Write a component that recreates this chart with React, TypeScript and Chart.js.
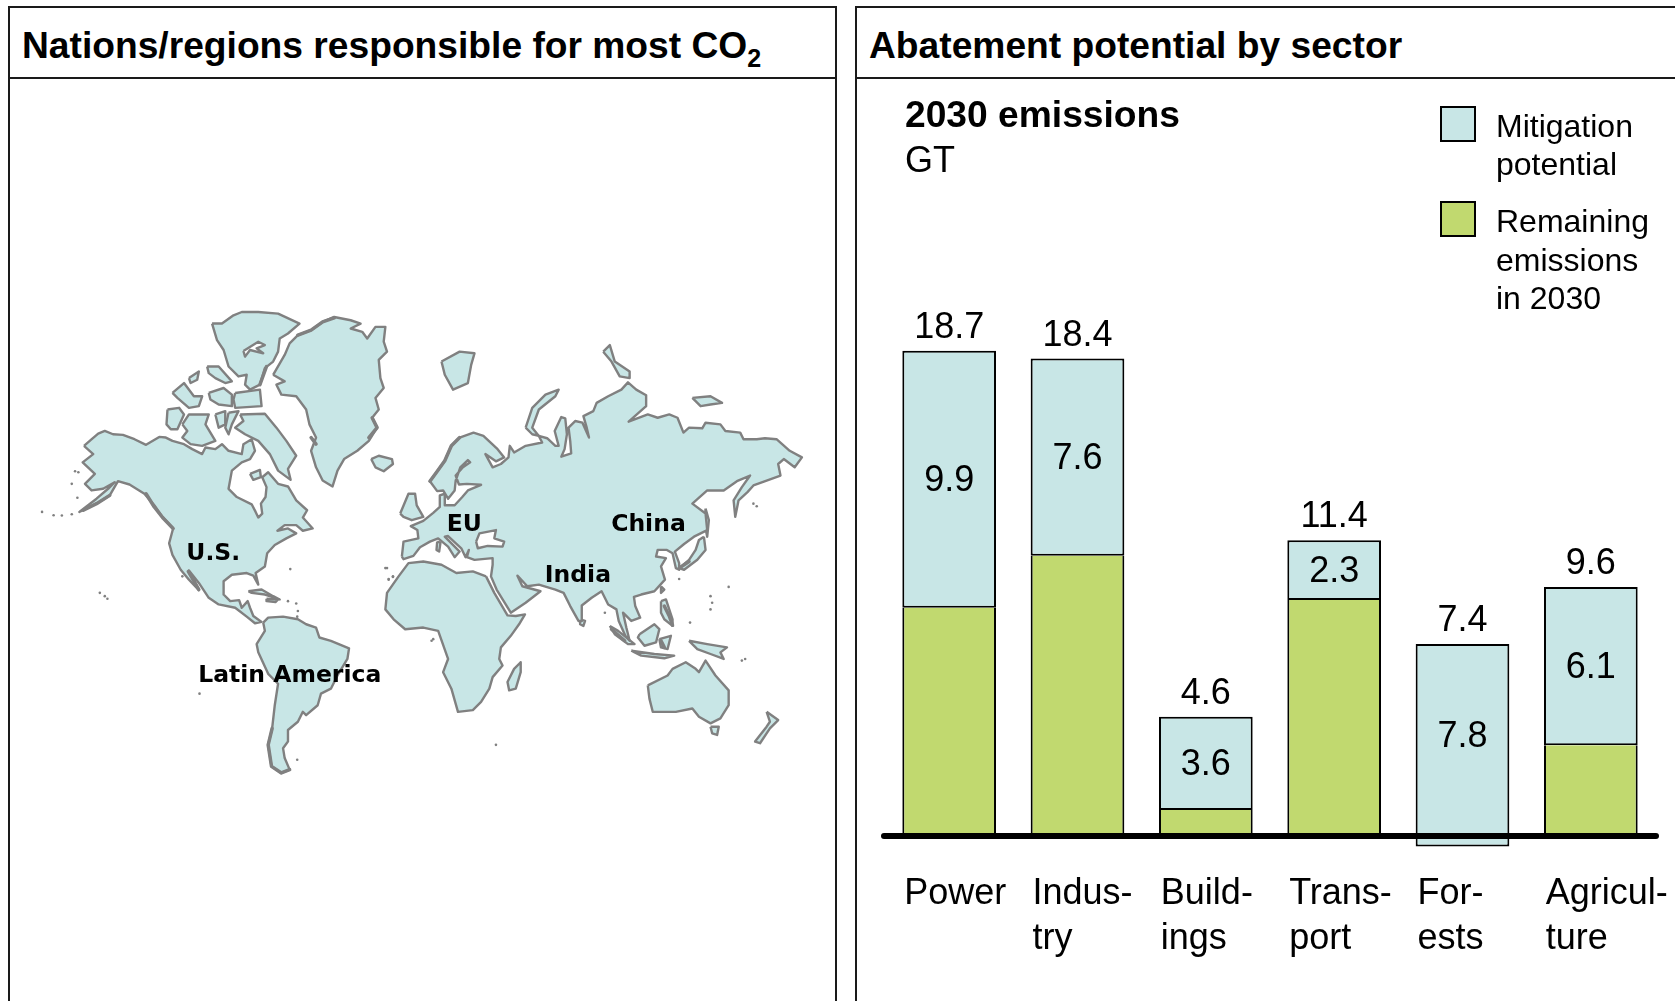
import React, { useEffect, useRef } from "react";
import { Chart, registerables } from "chart.js";

Chart.register(...registerables);

// ---- Abatement data, GT ----
const sectors = ["Power", "Industry", "Buildings", "Transport", "Forests", "Agriculture"];
const sectorTickLabels = [["Power"], ["Indus-", "try"], ["Build-", "ings"], ["Trans-", "port"], ["For-", "ests"], ["Agricul-", "ture"]];
const totalEmissions = [18.7, 18.4, 4.6, 11.4, 7.4, 9.6];
const mitigationPotential = [9.9, 7.6, 3.6, 2.3, 7.8, 6.1];
const remainingEmissions = [8.8, 10.8, 1.0, 9.1, null, 3.5];
const legendMitigation = ["Mitigation", "potential"];
const legendRemaining = ["Remaining", "emissions", "in 2030"];

// ---- World outline, flat x,y lists; the Atlantic splits it into two sheets ----
const westLand = [
  // North America
  [242,495,262,478,285,458,305,450,330,460,360,462,395,475,430,492,470,468,490,470,510,480,545,490,570,505,600,520,610,500,640,505,660,490,680,510,720,520,725,490,750,475,760,510,745,535,720,545,690,570,680,625,705,650,750,672,762,695,770,712,782,700,778,670,792,650,795,620,782,590,800,575,830,610,860,618,885,660,918,690,905,712,935,745,905,752,885,735,850,735,828,752,860,745,885,760,855,775,820,795,797,820,790,860,762,880,770,915,755,888,735,880,690,885,665,905,665,945,685,965,712,962,720,985,738,965,745,985,755,1010,780,1028,760,1032,735,1012,700,985,650,975,620,955,590,910,560,872,590,932,560,900,535,870,510,825,500,790,512,745,480,710,455,675,425,640,380,612,345,602,320,645,280,670,228,695,280,655,315,625,335,605,300,625,265,630,245,610,275,580,238,545,270,520,242,495],
  // Greenland
  [815,280,850,220,865,185,890,160,930,145,965,120,1000,105,1050,115,1080,125,1050,140,1085,150,1100,170,1125,135,1155,135,1150,180,1160,210,1135,235,1140,290,1150,320,1125,350,1135,385,1115,410,1130,440,1105,480,1070,510,1030,535,1010,570,995,618,965,600,945,560,930,510,945,470,925,430,915,385,885,345,840,340,825,310,850,300,815,280],
  // Iceland
  [1112,535,1135,525,1175,535,1178,550,1150,572,1125,560,1112,535],
  // South America
  [785,1030,800,1015,845,1012,890,1020,915,1035,945,1045,955,1075,990,1085,1045,1108,1040,1140,1010,1190,990,1230,960,1245,950,1280,915,1310,905,1300,890,1330,860,1355,860,1390,845,1410,850,1440,865,1475,840,1485,810,1465,800,1400,812,1350,820,1280,830,1215,800,1185,770,1120,765,1095,790,1055,785,1030],
  // Arctic archipelago
  [630,125,660,125,695,100,720,90,770,90,830,95,895,125,860,155,835,170,830,210,815,240,790,260,775,310,745,325,730,310,735,280,710,285,680,255,665,205,645,175,630,125],
  [700,335,775,325,780,375,700,380,695,355,700,335],
  [510,335,545,305,575,345,600,345,590,375,560,380,525,350,510,335],
  [615,255,650,255,690,300,670,305,640,290,620,275,615,255],
  [560,290,590,270,585,295,565,305,560,290],
  [620,335,665,320,690,340,690,375,650,370,625,355,620,335],
  [495,385,530,380,545,400,525,445,505,445,492,430,495,385],
  [540,430,560,400,620,400,610,430,640,480,600,495,565,490,540,470,555,450,540,430],
  [640,400,670,390,670,430,650,440,640,400],
  [680,395,710,390,690,430,680,460,670,440,680,395],
  [715,400,790,398,825,440,855,480,885,525,860,565,868,598,830,570,805,520,770,480,730,460,700,440,725,420,715,400],
  [745,580,775,568,778,590,755,598,745,580],
  // Caribbean
  [740,935,780,930,815,950,835,960,790,945,750,940,740,935],
  [795,958,830,960,822,968,795,965,795,958],
];
const westInlets = [[725,208,770,180,790,190,765,200,785,215,745,205,730,225,725,208]];
const westIslets = [115,695,150,705,175,706,205,702,205,610,222,652,215,572,225,575,867,868,540,890,592,1245,888,1445,1160,865,1165,898,1178,890,290,940,305,950,313,958,860,965,885,972,890,995,888,1012];
const westFjords = [
  [430,640,455,680,480,712,512,745],
  [320,645,280,670,240,690],
  [558,875,590,930],
  [812,1350,800,1400,810,1465,840,1485,865,1475],
  [1115,410,1130,440,1105,470],
  [890,160,930,145,965,120,1000,108],
  [795,255,775,310],
  [930,470,945,490],
];

const eastLand = [
  // Eurasia
  [65,710,70,665,115,655,112,630,92,618,130,602,160,578,180,560,180,525,195,520,195,555,225,555,248,530,265,510,305,493,262,490,238,492,228,465,250,440,272,425,265,418,242,440,228,480,225,510,205,535,190,510,172,512,150,482,170,455,195,420,215,375,240,350,282,335,312,345,355,385,375,410,350,422,318,400,340,440,365,430,388,410,392,375,405,395,440,375,490,365,480,345,505,352,530,375,540,375,528,330,548,288,560,292,565,340,558,385,548,408,578,398,575,360,570,320,590,300,612,305,632,350,625,320,615,285,645,270,655,245,690,225,730,205,750,183,775,205,805,222,805,255,752,302,810,280,840,290,875,280,900,290,918,335,935,320,975,322,985,305,1030,310,1045,330,1090,335,1100,355,1140,355,1165,352,1200,355,1240,390,1277,410,1255,440,1222,415,1205,430,1212,465,1170,480,1130,495,1112,515,1085,540,1075,590,1070,540,1095,500,1120,465,1080,482,1040,510,990,510,945,550,985,580,990,630,950,650,920,672,892,695,905,730,905,750,895,745,885,700,868,690,840,690,835,710,865,715,850,740,862,780,830,815,790,825,768,832,772,860,787,895,760,905,735,880,745,925,755,965,742,950,722,905,715,870,690,855,670,815,640,835,610,858,610,905,600,905,575,860,555,820,530,810,480,795,445,800,415,768,430,800,485,815,440,850,395,880,352,810,335,770,340,735,340,715,285,720,262,712,268,690,258,712,245,685,205,648,195,650,240,695,225,712,205,680,175,655,150,665,120,682,100,708,70,718,65,710],
  // Africa
  [320,770,345,820,385,888,410,890,438,885,420,915,395,950,365,985,360,1020,370,1040,340,1075,330,1110,305,1150,280,1175,235,1180,215,1110,190,1060,205,1020,175,935,130,925,75,930,40,900,15,870,20,820,55,770,85,730,130,725,185,735,230,760,280,755,320,770],
  // Madagascar
  [425,1030,425,1060,410,1110,390,1115,385,1090,405,1050,425,1030],
  // Britain and Ireland
  [60,580,85,520,105,520,110,555,130,590,95,600,70,590,60,580],
  // Svalbard, Novaya Zemlya and the Siberian islands
  [185,120,240,90,285,95,275,130,265,185,220,205,195,160,185,120],
  [440,320,460,260,500,220,540,205,530,225,480,265,460,320,480,345,460,340,440,320],
  [675,90,695,70,710,120,755,150,755,170,725,165,700,120,675,90],
  [945,230,1000,225,1035,245,1000,250,970,255,945,230],
  // Japan and Sakhalin
  [980,650,985,690,960,720,920,750,905,745,935,720,955,690,965,660,980,650],
  [985,565,995,600,990,650,982,610,985,565],
  // Southeast Asia
  [850,800,860,810,850,820,850,800],
  [605,900,620,905,615,920,605,915,605,900],
  [850,845,865,840,885,900,885,920,860,900,850,880,850,845],
  [785,945,830,915,845,930,835,970,800,980,780,955,785,945],
  [695,920,720,935,770,975,750,975,710,945,695,920],
  [760,995,830,1005,890,1010,860,1018,790,1010,760,995],
  [845,960,880,950,870,990,850,985,845,960],
  [935,965,990,975,1050,985,1030,1000,1040,1020,1000,1005,960,990,935,965],
  // Australia, Tasmania, New Zealand
  [810,1100,870,1070,885,1050,925,1030,955,1050,965,1060,985,1025,1015,1070,1055,1115,1055,1160,1030,1200,1000,1215,965,1195,945,1170,895,1180,825,1180,815,1140,810,1100],
  [1000,1225,1025,1225,1020,1250,1005,1245,1000,1225],
  [1170,1180,1205,1205,1180,1230,1150,1275,1135,1270,1170,1225,1180,1210,1170,1180],
  // Mediterranean islands
  [172,665,182,668,178,695,170,690,172,665],
];
const eastInlets = [[290,665,300,640,350,630,345,655,375,665,370,680,325,678,295,685,290,665]];
const eastIslets = [15,745,25,780,38,772,160,960,155,965,1000,830,1005,850,1000,870,1055,802,938,910,1095,1025,1105,1020,350,1280,680,880,1130,550,1140,558,905,778];
const eastFjords = [
  [150,482,170,455,195,420,215,375,240,350],
  [860,860,875,890,885,918],
  [850,965,860,985],
  [905,745,935,725],
  [700,930,740,965],
];

const regionNames = ["U.S.", "Latin America", "EU", "China", "India"];
const regionLabelX = [184, 196, 447, 613, 546];
const regionLabelY = [560, 683, 531, 531, 582];

const LAND = "#C8E6E6";
const COAST = "#808080";
const GREEN = "#C1D96F";
const INK = "#000000";
const SANS = '"Liberation Sans", Arial, sans-serif';

const westPts = (f: number[]) => {
  const out = [];
  for (let i = 0; i < f.length; i += 2) out.push({ x: f[i] / 3, y: 280 + f[i + 1] / 3 });
  return out;
};
const eastPts = (f: number[]) => {
  const out = [];
  for (let i = 0; i < f.length; i += 2) out.push({ x: 380 + f[i] / 3, y: 320 + f[i + 1] / 3 });
  return out;
};

const shape = (data: any[], fillColor: string, order: number) => ({
  data,
  showLine: true,
  fill: "shape",
  backgroundColor: fillColor,
  borderColor: COAST,
  borderWidth: 2.4,
  borderJoinStyle: "round",
  pointRadius: 0,
  tension: 0,
  order,
  clip: false,
});

// Broken coasts read as a heavier grey stroke at this scale.
const fjord = (data: any[]) => ({
  data,
  showLine: true,
  fill: false,
  borderColor: COAST,
  borderWidth: 3.5,
  borderCapStyle: "round",
  borderJoinStyle: "round",
  pointRadius: 0,
  tension: 0,
  order: 0,
  clip: false,
});

const regionLabelPlugin = {
  id: "regionLabels",
  afterDatasetsDraw(chart: any) {
    const { ctx, scales } = chart;
    ctx.save();
    ctx.fillStyle = INK;
    ctx.font = 'bold 23.5px "DejaVu Sans", Tahoma, sans-serif';
    ctx.textAlign = "left";
    ctx.textBaseline = "alphabetic";
    regionNames.forEach((name, i) => {
      ctx.fillText(name, scales.x.getPixelForValue(regionLabelX[i]), scales.y.getPixelForValue(regionLabelY[i]));
    });
    ctx.restore();
  },
};

// Heavy zero line plus the value labels on and above each bar.
const barAnnotations = {
  id: "barAnnotations",
  afterDatasetsDraw(chart: any) {
    const { ctx, scales, chartArea } = chart;
    const zero = scales.y.getPixelForValue(0);
    ctx.save();
    ctx.strokeStyle = INK;
    ctx.lineWidth = 6;
    ctx.lineCap = "round";
    ctx.beginPath();
    ctx.moveTo(chartArea.left - 1, zero);
    ctx.lineTo(chartArea.right + 1, zero + 0);
    ctx.stroke();

    ctx.fillStyle = INK;
    ctx.font = `36px ${SANS}`;
    ctx.textAlign = "center";
    sectors.forEach((_, i) => {
      const cx = scales.x.getPixelForValue(i);
      ctx.textBaseline = "alphabetic";
      ctx.fillText(totalEmissions[i].toFixed(1), cx, scales.y.getPixelForValue(totalEmissions[i]) - 13);
      const base = Math.max(totalEmissions[i] - mitigationPotential[i], 0);
      ctx.textBaseline = "middle";
      ctx.fillText(mitigationPotential[i].toFixed(1), cx, scales.y.getPixelForValue(base + mitigationPotential[i] / 2) + 2);
    });
    ctx.restore();
  },
};

const panel = (left: number, width: number): React.CSSProperties => ({
  position: "absolute",
  left,
  top: 6,
  width,
  height: 1100,
  border: "2px solid #1a1a1a",
  boxSizing: "border-box",
});

const text = (left: number, baseline: number, size: number, bold = false): React.CSSProperties => ({
  position: "absolute",
  left,
  top: baseline - size,
  lineHeight: `${size * 1.2}px`,
  fontFamily: SANS,
  fontSize: size,
  fontWeight: bold ? 700 : 400,
  color: INK,
  whiteSpace: "nowrap",
});

export default function App() {
  const mapRef = useRef<HTMLCanvasElement>(null);
  const barRef = useRef<HTMLCanvasElement>(null);

  useEffect(() => {
    const mapChart = new Chart(mapRef.current!, {
      type: "scatter",
      data: {
        datasets: [
          ...westLand.map((p) => shape(westPts(p), LAND, 2)),
          ...eastLand.map((p) => shape(eastPts(p), LAND, 2)),
          ...westInlets.map((p) => shape(westPts(p), "#ffffff", 1)),
          ...eastInlets.map((p) => shape(eastPts(p), "#ffffff", 1)),
          ...westFjords.map((p) => fjord(westPts(p))),
          ...eastFjords.map((p) => fjord(eastPts(p))),
          {
            data: [...westPts(westIslets), ...eastPts(eastIslets)],
            showLine: false,
            pointRadius: 1.3,
            pointBackgroundColor: COAST,
            pointBorderWidth: 0,
            order: 0,
          },
        ] as any,
      },
      options: {
        animation: false,
        responsive: false,
        layout: { padding: 0 },
        plugins: { legend: { display: false }, tooltip: { enabled: false } },
        events: [],
        scales: {
          x: { type: "linear", min: 10, max: 834, display: false },
          y: { type: "linear", min: 80, max: 1000, reverse: true, display: false },
        },
      },
      plugins: [regionLabelPlugin],
    });

    const barChart = new Chart(barRef.current!, {
      type: "bar",
      data: {
        labels: sectors,
        datasets: [
          {
            label: legendRemaining.join(" "),
            data: remainingEmissions.map((v) => (v === null ? null : [0, v])),
            backgroundColor: GREEN,
            borderColor: INK,
            borderWidth: 2,
            borderSkipped: "top",
          },
          {
            label: legendMitigation.join(" "),
            data: totalEmissions.map((t, i) => [Math.round((t - mitigationPotential[i]) * 10) / 10, t]),
            backgroundColor: LAND,
            borderColor: INK,
            borderWidth: 2,
            borderSkipped: false,
          },
        ] as any,
      },
      options: {
        animation: false,
        responsive: false,
        layout: { padding: { left: 30, right: 20, top: 217, bottom: 0 } },
        plugins: { legend: { display: false }, tooltip: { enabled: false } },
        events: [],
        datasets: { bar: { barPercentage: 0.73, categoryPercentage: 1, grouped: false } },
        scales: {
          x: {
            grid: { display: false },
            border: { display: false },
            afterFit: (scale: any) => {
              scale.height = 126;
              scale.paddingLeft = 0;
              scale.paddingRight = 0;
            },
            ticks: {
              callback: (_v: any, i: number) => sectorTickLabels[i],
              align: "start",
              labelOffset: -45,
              padding: -11,
              color: INK,
              font: { family: SANS, size: 36, lineHeight: 1.24 },
              maxRotation: 0,
              autoSkip: false,
            },
          },
          y: { min: -1.5, max: 20, display: false },
        },
      } as any,
      plugins: [barAnnotations],
    });

    return () => {
      mapChart.destroy();
      barChart.destroy();
    };
  }, []);

  const swatch = (top: number, color: string): React.CSSProperties => ({
    position: "absolute",
    left: 1440,
    top,
    width: 36,
    height: 36,
    boxSizing: "border-box",
    border: "2px solid #000",
    background: color,
  });

  return (
    <div style={{ position: "absolute", left: 0, top: 0, width: 1675, height: 1001, overflow: "hidden", background: "#fff" }}>
      <div style={panel(8, 829)} />
      <div style={panel(855, 1000)} />
      <div style={{ position: "absolute", left: 8, top: 77, width: 829, height: 2, background: "#1a1a1a" }} />
      <div style={{ position: "absolute", left: 855, top: 77, width: 820, height: 2, background: "#1a1a1a" }} />

      <canvas ref={mapRef} width={824} height={920} style={{ position: "absolute", left: 10, top: 80, width: 824, height: 920 }} />
      <canvas ref={barRef} width={820} height={901} style={{ position: "absolute", left: 855, top: 100, width: 820, height: 901 }} />

      <div style={text(22, 60, 37.2, true)}>
        Nations/regions responsible for most CO
        <span style={{ fontSize: 25, position: "relative", top: 9 }}>2</span>
      </div>
      <div style={text(869, 60, 37.2, true)}>Abatement potential by sector</div>
      <div style={text(905, 129, 37.2, true)}>2030 emissions</div>
      <div style={text(905, 174, 36)}>GT</div>

      <div style={swatch(106, LAND)} />
      <div style={swatch(201, GREEN)} />
      {legendMitigation.map((t, i) => (
        <div key={t} style={text(1496, 139 + i * 38, 32)}>{t}</div>
      ))}
      {legendRemaining.map((t, i) => (
        <div key={t} style={text(1496, 234 + i * 38.5, 32)}>{t}</div>
      ))}
    </div>
  );
}
